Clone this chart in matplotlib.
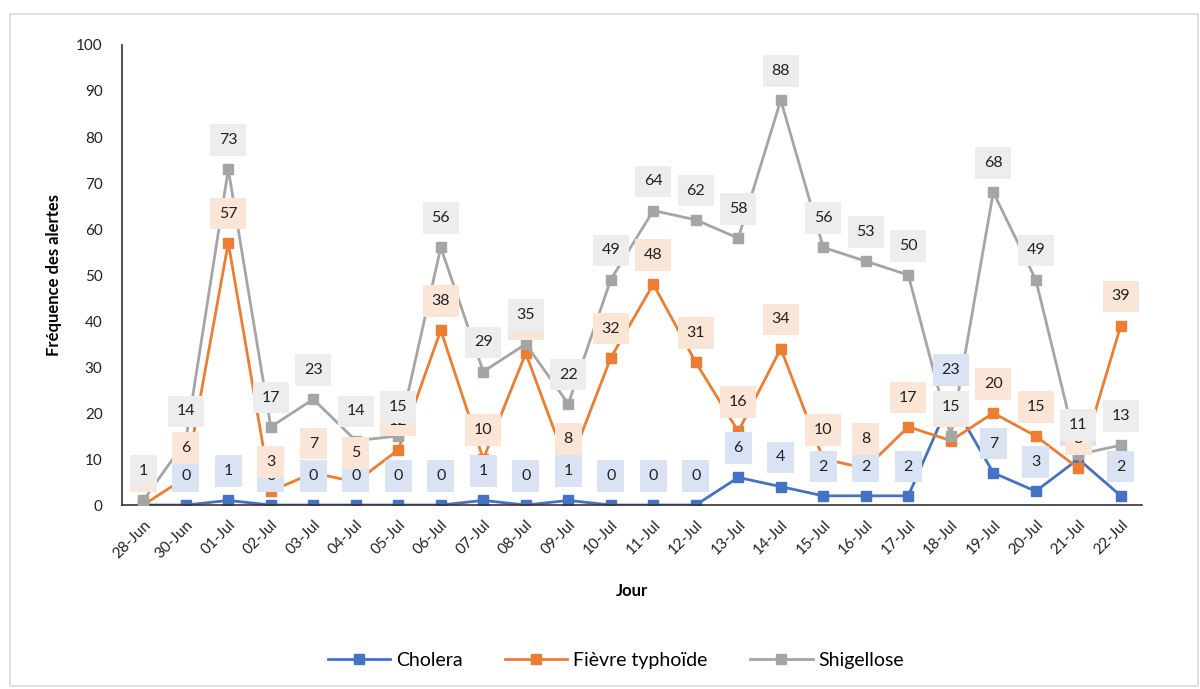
import numpy as np
import matplotlib.pyplot as plt
from matplotlib.patches import Rectangle

plt.rcParams['font.family'] = ['Lato', 'DejaVu Sans']

jours = ['28-Jun', '30-Jun', '01-Jul', '02-Jul', '03-Jul', '04-Jul', '05-Jul',
         '06-Jul', '07-Jul', '08-Jul', '09-Jul', '10-Jul', '11-Jul', '12-Jul',
         '13-Jul', '14-Jul', '15-Jul', '16-Jul', '17-Jul', '18-Jul', '19-Jul',
         '20-Jul', '21-Jul', '22-Jul']

cholera = [0, 0, 1, 0, 0, 0, 0, 0, 1, 0, 1, 0, 0, 0, 6, 4, 2, 2, 2, 23, 7, 3, 10, 2]
typhoide = [0, 6, 57, 3, 7, 5, 12, 38, 10, 33, 8, 32, 48, 31, 16, 34, 10, 8, 17, 14, 20, 15, 8, 39]
shigellose = [1, 14, 73, 17, 23, 14, 15, 56, 29, 35, 22, 49, 64, 62, 58, 88, 56, 53, 50, 15, 68, 49, 11, 13]

series = [
    ('Cholera', cholera, '#4472C4', '#DAE3F3'),
    ('Fièvre typhoïde', typhoide, '#ED7D31', '#FBE5D6'),
    ('Shigellose', shigellose, '#A5A5A5', '#EDEDED'),
]

fig = plt.figure(figsize=(12, 6.89), dpi=100)
ax = fig.add_axes([0.1017, 0.267, 0.85, 0.6677])

x = np.arange(len(jours))
for k, (name, vals, col, light) in enumerate(series):
    ax.plot(x, vals, color=col, lw=2.0, marker='s', ms=6.5, label=name, zorder=2 + k)

# data labels, drawn after the lines so the boxes sit on top
for k, (name, vals, col, light) in enumerate(series):
    for i, v in enumerate(vals):
        ax.annotate(str(v), (i, v), xytext=(0, 21), textcoords='offset points',
                    ha='center', va='center', fontsize=11.5, color='#222222',
                    bbox=dict(boxstyle='square,pad=0.55', fc=light, ec='none'),
                    zorder=10 + k, annotation_clip=False)

ax.set_xlim(-0.5, len(jours) - 0.5)
ax.set_ylim(0, 100)
ax.set_yticks(range(0, 101, 10))
ax.set_xticks(x)
ax.set_xticklabels(jours, rotation=45, ha='right', rotation_mode='anchor')
ax.tick_params(axis='both', length=0, labelsize=11, colors='#222222')
ax.tick_params(axis='x', pad=9)
ax.tick_params(axis='y', pad=14)

for s in ['top', 'right']:
    ax.spines[s].set_visible(False)
for s in ['left', 'bottom']:
    ax.spines[s].set_color('#333333')
    ax.spines[s].set_linewidth(1.2)

ax.set_xlabel('Jour', fontsize=12, fontweight='bold', labelpad=16)
ax.set_ylabel('Fréquence des alertes', fontsize=12, fontweight='bold', labelpad=10)

ax.legend(loc='center', bbox_to_anchor=(0.5132, 0.042), bbox_transform=fig.transFigure,
          ncol=3, frameon=False, fontsize=14, handlelength=3.2, columnspacing=2.2,
          handletextpad=0.3)

fig.patches.append(Rectangle((0.008, 0.005), 0.99, 0.975, transform=fig.transFigure,
                             fill=False, ec='#D9D9D9', lw=1.2))

fig.savefig('out.png', dpi=100)
